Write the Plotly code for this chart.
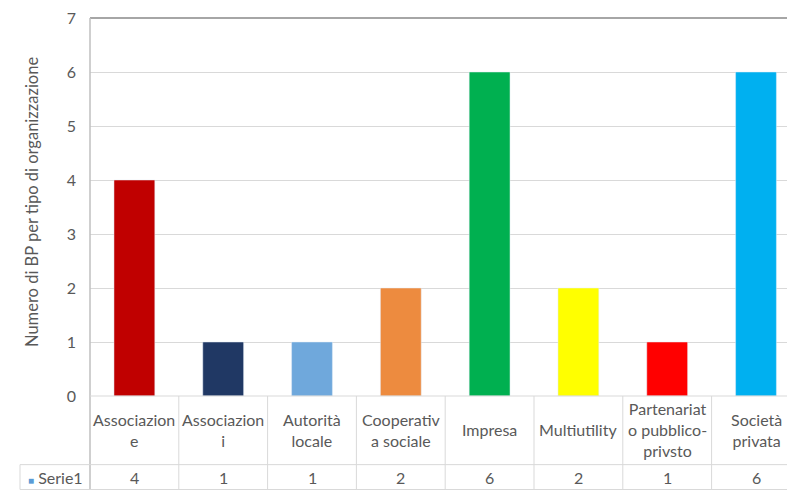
import plotly.graph_objects as go

categories = ["Associazione", "Associazioni", "Autorità locale", "Cooperativa sociale",
              "Impresa", "Multiutility", "Partenariato pubblico-privsto", "Società privata"]
tick_labels = ["Associazion<br>e", "Associazion<br>i", "Autorità<br>locale", "Cooperativ<br>a sociale",
               "Impresa", "Multiutility", "Partenariat<br>o pubblico-<br>privsto", "Società<br>privata"]
values = [4, 1, 1, 2, 6, 2, 1, 6]
colors = ["#C00000", "#203864", "#6FA8DC", "#ED8B3F", "#00B050", "#FFFF00", "#FF0000", "#00B0F0"]
series_name = "Serie1"
y_title = "Numero di BP per tipo di organizzazione"

FONT = "Lato, Open Sans, sans-serif"
TXT = "#595959"
GRID = "#D9D9D9"

OFF = 8  # page body margin
PW, PH = 795, 496          # page (window) size
W, H = PW - OFF, PH - OFF  # figure size
PL, PT, PB = 90, 16, 396   # plot area in page pixels
L, T = PL - OFF, PT - OFF
B = H - (PB - OFF)
plot_h = H - T - B
plot_w = W - L
cat_w = 88.8
x_hi = -0.5 + plot_w / cat_w

def py(p):
    return (PB - p) / plot_h

def px(p):
    return (p - PL) / plot_w

xs = list(range(len(categories)))

fig = go.Figure()
fig.add_trace(go.Bar(x=xs, y=values, marker_color=colors, width=0.46,
                     name=series_name, showlegend=False, hoverinfo="y"))

shapes = []
annotations = []

# top border
shapes.append(dict(type="line", xref="paper", yref="paper", x0=0, x1=1, y0=1, y1=1,
                   line=dict(color="#A6A6A6", width=2)))
# left border extended through table
shapes.append(dict(type="line", xref="paper", yref="paper", x0=0, x1=0, y0=py(490), y1=1,
                   line=dict(color="#BFBFBF", width=1.5)))
# table horizontal lines
for yy in [396, 465, 490]:
    shapes.append(dict(type="line", xref="paper", yref="paper", x0=0, x1=1, y0=py(yy), y1=py(yy),
                       line=dict(color=GRID, width=1)))
# series cell
x_cell = px(20)
for yy in [465, 490]:
    shapes.append(dict(type="line", xref="paper", yref="paper", x0=x_cell, x1=0, y0=py(yy), y1=py(yy),
                       line=dict(color=GRID, width=1)))
shapes.append(dict(type="line", xref="paper", yref="paper", x0=x_cell, x1=x_cell, y0=py(490), y1=py(465),
                   line=dict(color=GRID, width=1)))
# category boundaries
for i in range(1, len(categories) + 1):
    shapes.append(dict(type="line", xref="x", yref="paper", x0=i - 0.5, x1=i - 0.5,
                       y0=py(490), y1=py(396), line=dict(color=GRID, width=1)))

for i, (lab, v) in enumerate(zip(tick_labels, values)):
    annotations.append(dict(x=i, y=py(430), xref="x", yref="paper", text=lab, showarrow=False,
                            font=dict(family=FONT, size=16, color=TXT), align="center",
                            xanchor="center", yanchor="middle"))
    annotations.append(dict(x=i, y=py(478), xref="x", yref="paper", text=str(v), showarrow=False,
                            font=dict(family=FONT, size=16, color=TXT),
                            xanchor="center", yanchor="middle"))

annotations.append(dict(x=px(26), y=py(478), xref="paper", yref="paper",
                        text="<span style='color:#5B9BD5;font-size:10px'>■</span> " + series_name,
                        showarrow=False, font=dict(family=FONT, size=16, color=TXT),
                        xanchor="left", yanchor="middle"))
annotations.append(dict(x=px(32), y=py(201), xref="paper", yref="paper", text=y_title,
                        textangle=-90, showarrow=False, font=dict(family=FONT, size=16.5, color=TXT),
                        xanchor="center", yanchor="middle"))

fig.update_layout(
    width=W, height=H,
    margin=dict(l=L, r=0, t=T, b=B),
    paper_bgcolor="white", plot_bgcolor="white",
    font=dict(family=FONT, color=TXT, size=16),
    xaxis=dict(range=[-0.5, x_hi], showticklabels=False, showgrid=False, zeroline=False,
               showline=False, fixedrange=True),
    yaxis=dict(range=[0, 7], dtick=1, showgrid=True, gridcolor=GRID, gridwidth=1,
               zeroline=False, showline=False, ticks="", ticklabelstandoff=13,
               ticklabeloverflow="allow",
               tickfont=dict(family=FONT, size=16, color=TXT)),
    shapes=shapes,
    annotations=annotations,
)

fig.write_html("out.html")
